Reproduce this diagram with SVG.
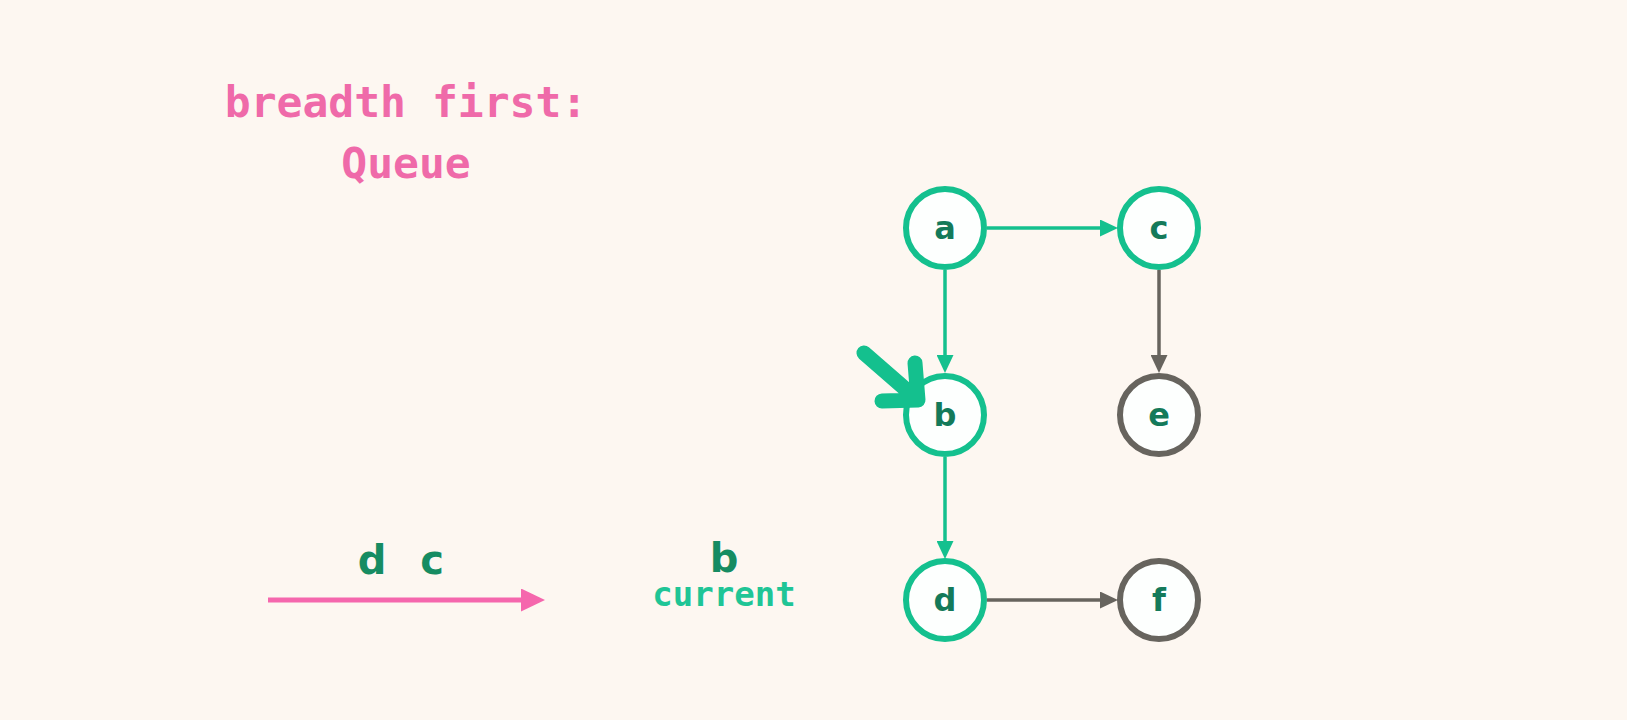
<svg xmlns="http://www.w3.org/2000/svg" width="1627" height="720" viewBox="0 0 1627 720">
  <style>
    .title { font-family: "DejaVu Sans Mono", "Liberation Mono", monospace; font-weight: bold; fill: #ef6aa9; font-size: 43px; text-anchor: middle; }
    .node circle { fill: #fdfffe; stroke-width: 6; }
    .node.visited circle { stroke: #14c08e; }
    .node.unvisited circle { stroke: #67645e; }
    .node text { font-family: "DejaVu Sans", sans-serif; font-weight: bold; font-size: 32px; fill: #147a5a; text-anchor: middle; }
    .queue { font-family: "DejaVu Sans", sans-serif; font-weight: bold; font-size: 40px; fill: #168c62; text-anchor: middle; }
    .current { font-family: "DejaVu Sans Mono", "Liberation Mono", monospace; font-weight: bold; font-size: 34px; fill: #1fc596; text-anchor: middle; }
    .edge { fill: none; stroke-width: 3.5; }
    .edge.green { stroke: #14c08e; }
    .edge.grey { stroke: #67645e; }
  </style>
  <defs>
    <marker id="ah-green" markerUnits="userSpaceOnUse" markerWidth="18" markerHeight="17" refX="12" refY="8.5" orient="auto">
      <path d="M0,0 L18,8.5 L0,17 z" fill="#14c08e"/>
    </marker>
    <marker id="ah-grey" markerUnits="userSpaceOnUse" markerWidth="18" markerHeight="17" refX="12" refY="8.5" orient="auto">
      <path d="M0,0 L18,8.5 L0,17 z" fill="#67645e"/>
    </marker>
    <marker id="ah-pink" markerUnits="userSpaceOnUse" markerWidth="24" markerHeight="23" refX="16" refY="11.5" orient="auto">
      <path d="M0,0 L24,11.5 L0,23 z" fill="#f567ad"/>
    </marker>
  </defs>
  <rect width="1627" height="720" fill="#fdf7f1"/>

  <text class="title" x="406" y="117">breadth first:</text>
  <text class="title" x="406" y="178">Queue</text>

  <g id="connectors">
    <line class="edge green" x1="987" y1="228" x2="1112" y2="228" marker-end="url(#ah-green)"/>
    <line class="edge green" x1="945" y1="270" x2="945" y2="367" marker-end="url(#ah-green)"/>
    <line class="edge green" x1="945" y1="457" x2="945" y2="553" marker-end="url(#ah-green)"/>
    <line class="edge grey" x1="1159" y1="270" x2="1159" y2="367" marker-end="url(#ah-grey)"/>
    <line class="edge grey" x1="987" y1="600" x2="1112" y2="600" marker-end="url(#ah-grey)"/>
  </g>

  <g id="node-a" class="node visited"><circle cx="945" cy="228" r="39"/><text x="945" y="239">a</text></g>
  <g id="node-c" class="node visited"><circle cx="1159" cy="228" r="39"/><text x="1159" y="239">c</text></g>
  <g id="node-b" class="node visited"><circle cx="945" cy="415" r="39"/><text x="945" y="426">b</text></g>
  <g id="node-e" class="node unvisited"><circle cx="1159" cy="415" r="39"/><text x="1159" y="426">e</text></g>
  <g id="node-d" class="node visited"><circle cx="945" cy="600" r="39"/><text x="945" y="611">d</text></g>
  <g id="node-f" class="node unvisited"><circle cx="1159" cy="600" r="39"/><text x="1159" y="611">f</text></g>

  <g id="pointer">
    <path d="M864,353 L918,400 M915,363 L918,400 L882,401" fill="none" stroke="#14c08e" stroke-width="15" stroke-linecap="round" stroke-linejoin="round"/>
  </g>

  <g id="queue">
    <text class="queue" x="372" y="574">d</text>
    <text class="queue" x="432" y="574">c</text>
    <line x1="268" y1="600" x2="537" y2="600" stroke="#f567ad" stroke-width="5" marker-end="url(#ah-pink)"/>
  </g>

  <g id="current">
    <text class="queue" x="724" y="572">b</text>
    <text class="current" x="724" y="606">current</text>
  </g>
</svg>
